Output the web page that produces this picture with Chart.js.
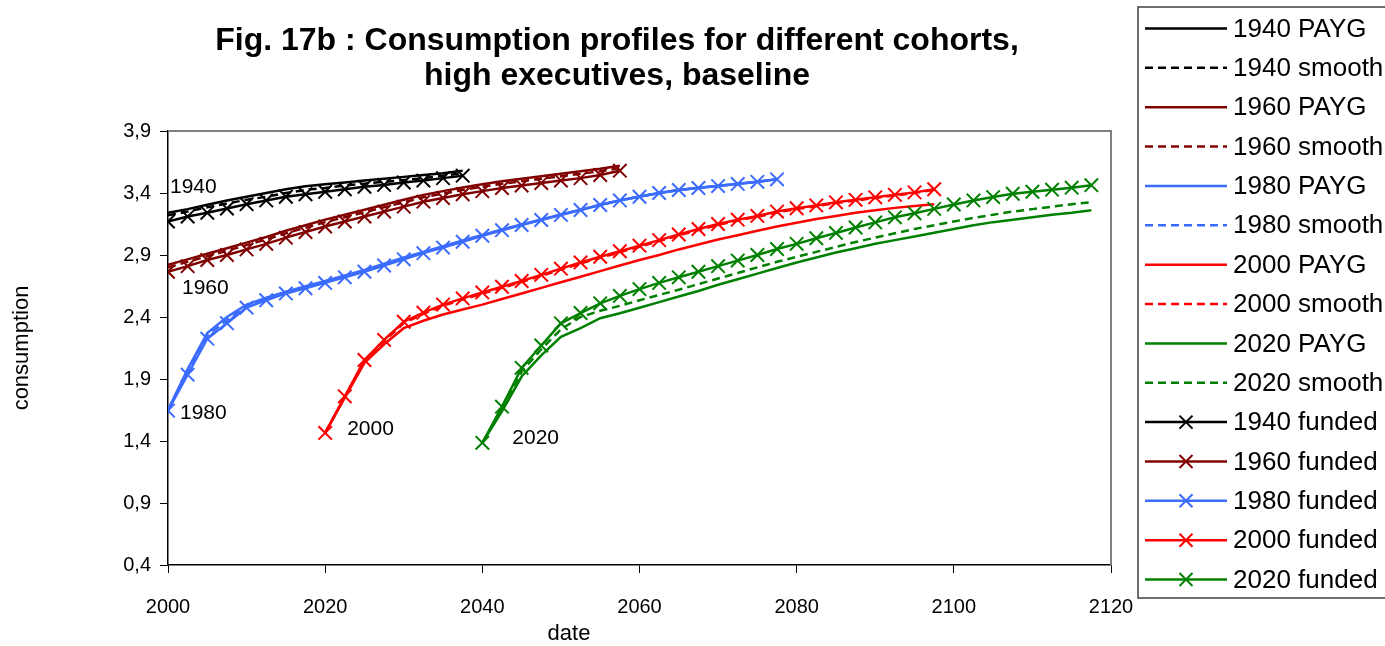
<!DOCTYPE html>
<html>
<head>
<meta charset="utf-8">
<script src="https://cdn.jsdelivr.net/npm/chart.js@4.4.1/dist/chart.umd.min.js"></script>
<style>
  html, body { margin: 0; padding: 0; background: #ffffff; }
  canvas { display: block; }
</style>
</head>
<body>
<canvas id="c" width="1385" height="646"></canvas>
<script>
// Time axis: one observation every 2.5 years
const years = [2000, 2002.5, 2005, 2007.5, 2010, 2012.5, 2015, 2017.5, 2020, 2022.5, 2025, 2027.5,
  2030, 2032.5, 2035, 2037.5, 2040, 2042.5, 2045, 2047.5, 2050, 2052.5, 2055, 2057.5,
  2060, 2062.5, 2065, 2067.5, 2070, 2072.5, 2075, 2077.5, 2080, 2082.5, 2085, 2087.5,
  2090, 2092.5, 2095, 2097.5, 2100, 2102.5, 2105, 2107.5, 2110, 2112.5, 2115, 2117.5];

const cohorts = ['1940', '1960', '1980', '2000', '2020'];
// index in `years` of each cohort's first observation
const cohortStart = [0, 0, 0, 8, 16];
const cohortColors = ['#000000', '#800000', '#3b6cff', '#ff0000', '#008000'];

const xTicks = [2000, 2020, 2040, 2060, 2080, 2100, 2120];
const yTicks = [0.4, 0.9, 1.4, 1.9, 2.4, 2.9, 3.4, 3.9];

// Consumption by cohort and pension regime
const payg1940   = [3.24, 3.27, 3.305, 3.34, 3.37, 3.40, 3.43, 3.455, 3.47, 3.485, 3.50, 3.515, 3.53, 3.545, 3.56, 3.58];
const smooth1940 = [3.22, 3.25, 3.285, 3.315, 3.345, 3.37, 3.40, 3.425, 3.44, 3.46, 3.475, 3.49, 3.505, 3.52, 3.54, 3.56];
const funded1940 = [3.17, 3.21, 3.24, 3.275, 3.31, 3.34, 3.37, 3.39, 3.41, 3.43, 3.45, 3.465, 3.485, 3.50, 3.52, 3.54];

const payg1960   = [2.82, 2.865, 2.91, 2.955, 3.00, 3.045, 3.095, 3.14, 3.185, 3.225, 3.265, 3.305, 3.345, 3.385, 3.415, 3.445, 3.47, 3.495, 3.515, 3.535, 3.555, 3.575, 3.595, 3.62];
const smooth1960 = [2.80, 2.845, 2.89, 2.935, 2.98, 3.025, 3.075, 3.12, 3.165, 3.205, 3.245, 3.285, 3.325, 3.365, 3.395, 3.425, 3.45, 3.475, 3.495, 3.515, 3.535, 3.555, 3.575, 3.60];
const funded1960 = [2.765, 2.81, 2.86, 2.90, 2.945, 2.99, 3.04, 3.085, 3.13, 3.17, 3.21, 3.25, 3.29, 3.33, 3.36, 3.39, 3.415, 3.44, 3.46, 3.48, 3.50, 3.52, 3.545, 3.58];

const payg1980   = [1.65, 1.98, 2.27, 2.40, 2.50, 2.555, 2.605, 2.648, 2.69, 2.735, 2.78, 2.83, 2.88, 2.925, 2.97, 3.017, 3.062, 3.105, 3.147, 3.187, 3.227, 3.266, 3.305, 3.342, 3.372, 3.40, 3.425, 3.442, 3.458, 3.474, 3.49, 3.51];
const smooth1980 = [1.648, 1.96, 2.25, 2.375, 2.49, 2.545, 2.598, 2.64, 2.683, 2.728, 2.772, 2.822, 2.872, 2.92, 2.965, 3.012, 3.058, 3.102, 3.144, 3.184, 3.225, 3.264, 3.304, 3.341, 3.371, 3.40, 3.424, 3.441, 3.457, 3.473, 3.49, 3.51];
const funded1980 = [1.645, 1.935, 2.225, 2.35, 2.475, 2.535, 2.59, 2.632, 2.675, 2.72, 2.765, 2.815, 2.865, 2.915, 2.96, 3.007, 3.055, 3.10, 3.142, 3.182, 3.223, 3.263, 3.303, 3.34, 3.37, 3.40, 3.424, 3.44, 3.456, 3.473, 3.49, 3.51];

const payg2000   = [1.465, 1.75, 2.03, 2.18, 2.31, 2.37, 2.42, 2.46, 2.50, 2.545, 2.59, 2.635, 2.68, 2.725, 2.77, 2.815, 2.86, 2.90, 2.945, 2.985, 3.025, 3.06, 3.095, 3.13, 3.16, 3.19, 3.215, 3.24, 3.26, 3.28, 3.295, 3.31];
const smooth2000 = [1.465, 1.755, 2.045, 2.205, 2.35, 2.425, 2.49, 2.54, 2.588, 2.635, 2.682, 2.732, 2.782, 2.832, 2.878, 2.922, 2.967, 3.012, 3.057, 3.102, 3.142, 3.178, 3.208, 3.243, 3.27, 3.294, 3.319, 3.339, 3.36, 3.38, 3.40, 3.425];
const funded2000 = [1.465, 1.76, 2.053, 2.215, 2.362, 2.435, 2.50, 2.55, 2.598, 2.644, 2.69, 2.74, 2.79, 2.84, 2.886, 2.93, 2.975, 3.02, 3.065, 3.11, 3.15, 3.185, 3.215, 3.25, 3.277, 3.30, 3.325, 3.345, 3.365, 3.385, 3.405, 3.43];

const payg2020   = [1.385, 1.64, 1.92, 2.09, 2.24, 2.31, 2.39, 2.43, 2.475, 2.52, 2.565, 2.61, 2.66, 2.705, 2.75, 2.795, 2.84, 2.88, 2.92, 2.955, 2.99, 3.02, 3.05, 3.08, 3.11, 3.14, 3.165, 3.185, 3.205, 3.225, 3.24, 3.26];
const smooth2020 = [1.385, 1.66, 1.96, 2.14, 2.30, 2.40, 2.45, 2.49, 2.535, 2.578, 2.62, 2.665, 2.71, 2.755, 2.80, 2.845, 2.885, 2.925, 2.965, 3.005, 3.04, 3.075, 3.11, 3.14, 3.17, 3.20, 3.225, 3.25, 3.27, 3.29, 3.31, 3.325];
const funded2020 = [1.385, 1.677, 1.99, 2.17, 2.349, 2.432, 2.51, 2.57, 2.625, 2.675, 2.72, 2.765, 2.81, 2.855, 2.90, 2.948, 2.99, 3.035, 3.078, 3.122, 3.163, 3.204, 3.236, 3.272, 3.307, 3.34, 3.367, 3.394, 3.41, 3.427, 3.443, 3.463];

const paygSeries   = [payg1940, payg1960, payg1980, payg2000, payg2020];
const smoothSeries = [smooth1940, smooth1960, smooth1980, smooth2000, smooth2020];
const fundedSeries = [funded1940, funded1960, funded1980, funded2000, funded2020];

const FONT = 'Arial, "Liberation Sans", Helvetica, sans-serif';

function toPoints(start, values) {
  return values.map((v, i) => ({ x: years[start + i], y: v }));
}

const datasets = [];
cohorts.forEach((c, k) => {
  datasets.push({
    label: c + ' PAYG', data: toPoints(cohortStart[k], paygSeries[k]),
    borderColor: cohortColors[k], backgroundColor: cohortColors[k],
    borderWidth: 2.5, pointRadius: 0, order: 2
  });
  datasets.push({
    label: c + ' smooth', data: toPoints(cohortStart[k], smoothSeries[k]),
    borderColor: cohortColors[k], backgroundColor: cohortColors[k],
    borderWidth: 2.5, borderDash: [8, 5], pointRadius: 0, order: 1
  });
});
cohorts.forEach((c, k) => {
  datasets.push({
    label: c + ' funded', data: toPoints(cohortStart[k], fundedSeries[k]),
    borderColor: cohortColors[k], backgroundColor: cohortColors[k],
    borderWidth: 2.5, pointStyle: 'crossRot', pointRadius: 9.5, pointBorderWidth: 2,
    pointBorderColor: cohortColors[k], order: 0, funded: true
  });
});

// Frame, titles, cohort tags and the boxed legend
const decorations = {
  id: 'decorations',
  beforeDatasetsDraw(chart) {
    const { ctx, chartArea: a } = chart;
    ctx.save();
    ctx.strokeStyle = '#808080';
    ctx.lineWidth = 2;
    ctx.beginPath();
    ctx.moveTo(a.left, a.top);
    ctx.lineTo(a.right, a.top);
    ctx.lineTo(a.right, a.bottom);
    ctx.stroke();
    ctx.restore();
  },
  afterDatasetsDraw(chart) {
    const { ctx, scales } = chart;
    const tagOffsets = [[2, -34], [14, 16], [12, 3], [22, -4], [30, -5]];
    ctx.save();
    ctx.fillStyle = '#000';
    ctx.font = '21px ' + FONT;
    ctx.textBaseline = 'middle';
    ctx.textAlign = 'left';
    cohorts.forEach((c, k) => {
      const px = scales.x.getPixelForValue(years[cohortStart[k]]);
      const py = scales.y.getPixelForValue(fundedSeries[k][0]);
      ctx.fillText(c, px + tagOffsets[k][0], py + tagOffsets[k][1]);
    });
    ctx.restore();
  },
  afterDraw(chart) {
    const { ctx } = chart;
    ctx.save();
    // chart title
    ctx.fillStyle = '#000';
    ctx.textAlign = 'center';
    ctx.textBaseline = 'alphabetic';
    ctx.font = 'bold 32px ' + FONT;
    ctx.fillText('Fig. 17b : Consumption profiles for different cohorts,', 617, 50);
    ctx.fillText('high executives, baseline', 617, 85);
    // x axis title
    ctx.font = '22px ' + FONT;
    ctx.textBaseline = 'middle';
    ctx.fillText('date', 569, 634);

    // legend box
    ctx.strokeStyle = '#404040';
    ctx.lineWidth = 1.5;
    ctx.strokeRect(1138, 7, 260, 591);
    const x0 = 1145, x1 = 1227, y0 = 28.5, dy = 39.36;
    chart.data.datasets.forEach((ds, i) => {
      const y = y0 + i * dy;
      ctx.strokeStyle = ds.borderColor;
      ctx.lineWidth = 2.5;
      ctx.setLineDash(ds.borderDash || []);
      ctx.beginPath();
      ctx.moveTo(x0, y);
      ctx.lineTo(x1, y);
      ctx.stroke();
      ctx.setLineDash([]);
      if (ds.funded) {
        const cx = (x0 + x1) / 2, r = 6.5;
        ctx.lineWidth = 2;
        ctx.beginPath();
        ctx.moveTo(cx - r, y - r); ctx.lineTo(cx + r, y + r);
        ctx.moveTo(cx - r, y + r); ctx.lineTo(cx + r, y - r);
        ctx.stroke();
      }
      ctx.fillStyle = '#000';
      ctx.font = '26px ' + FONT;
      ctx.textAlign = 'left';
      ctx.textBaseline = 'middle';
      ctx.fillText(ds.label, 1233, y + 1);
    });
    ctx.restore();
  }
};

new Chart(document.getElementById('c'), {
  type: 'line',
  data: { datasets },
  plugins: [decorations],
  options: {
    responsive: false,
    animation: false,
    devicePixelRatio: 1,
    layout: { padding: { left: 0, right: 274, top: 131, bottom: 0 } },
    elements: { line: { tension: 0, fill: false } },
    plugins: { legend: { display: false }, title: { display: false }, tooltip: { enabled: false } },
    scales: {
      x: {
        type: 'linear', min: xTicks[0], max: xTicks[xTicks.length - 1],
        afterBuildTicks(s) { s.ticks = xTicks.map(v => ({ value: v })); },
        afterFit(s) { s.height = 81; },
        ticks: { color: '#000', font: { size: 20, family: FONT }, padding: 22, maxRotation: 0,
                 callback: v => String(v) },
        grid: { drawOnChartArea: false, drawTicks: true, tickLength: 8, color: '#000', lineWidth: 1 },
        border: { color: '#000', width: 1.5 }
      },
      y: {
        type: 'linear', min: yTicks[0], max: yTicks[yTicks.length - 1],
        afterBuildTicks(s) { s.ticks = yTicks.map(v => ({ value: v })); },
        afterFit(s) { s.width = 168; },
        ticks: { color: '#000', font: { size: 20, family: FONT }, padding: 9,
                 callback: v => Number(v).toFixed(1).replace('.', ',') },
        grid: { drawOnChartArea: false, drawTicks: true, tickLength: 8, color: '#000', lineWidth: 1 },
        border: { color: '#000', width: 1.5 },
        title: { display: true, text: 'consumption', color: '#000',
                 font: { size: 22, family: FONT }, padding: { top: 9, bottom: 0 } }
      }
    }
  }
});
</script>
</body>
</html>
